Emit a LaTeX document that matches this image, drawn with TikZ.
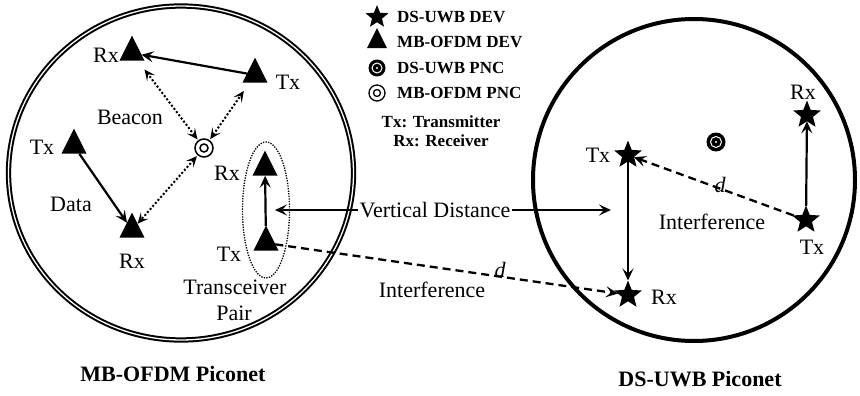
\documentclass[tikz,border=0pt]{standalone}
\usepackage{fontspec}
\setmainfont{Liberation Serif}
\usetikzlibrary{shapes.geometric,arrows.meta}
\begin{document}
\begin{tikzpicture}[x=1pt,y=-1pt,
  lbl/.style={font=\fontsize{22}{24}\selectfont, inner sep=0pt},
  leg/.style={font=\bfseries\fontsize{17}{19}\selectfont, inner sep=0pt, anchor=west},
  captionlbl/.style={font=\bfseries\fontsize{22}{24}\selectfont, inner sep=0pt},
  tri/.style={isosceles triangle, isosceles triangle stretches, shape border rotate=90,
    minimum width=25pt, minimum height=25pt, fill=black, inner sep=0pt, outer sep=0pt},
  strn/.style={star, star points=5, star point ratio=2.3, fill=black, minimum size=29pt, inner sep=0pt, outer sep=0pt},
  arr/.style={-{Stealth[length=12pt,width=11pt,inset=5pt]}, line width=2.2pt},
  dotarr/.style={{Stealth[length=11pt,width=10pt,inset=5pt]}-{Stealth[length=11pt,width=10pt,inset=5pt]}, line width=2pt, dash pattern=on 2pt off 2pt},
  dasharr/.style={-{Stealth[length=12pt,width=11pt,inset=5pt]}, line width=2.3pt, dash pattern=on 8pt off 5pt},
  mbpnc/.style={circle, draw, line width=1.5pt, minimum size=18pt, inner sep=0pt},
  dspnc/.style={circle, fill=black, minimum size=19pt, inner sep=0pt}
]
\useasboundingbox (0,0) rectangle (860,396);

% piconet outlines
\node[ellipse, draw, double, line width=2pt, double distance=1.3pt, minimum width=345pt, minimum height=334pt, inner sep=0pt] (mbnet) at (181,173) {};
\node[circle, draw, line width=4pt, minimum size=322pt, inner sep=0pt] (dsnet) at (694,180) {};

% legend
\node[strn, minimum size=24pt] (lgstar) at (377,17) {};
\node[leg] (lgt1) at (397,17) {DS-UWB DEV};
\node[tri, minimum width=20pt, minimum height=20pt] (lgtri) at (377,42) {};
\node[leg] (lgt2) at (397,42) {MB-OFDM DEV};
\node[dspnc, minimum size=17pt] (lgds) at (377,68) {};
\draw[white, line width=1pt] (lgds) circle[radius=5];
\fill[white] (lgds) circle[radius=1.1];
\node[leg] (lgt3) at (397,68) {DS-UWB PNC};
\node[mbpnc, minimum size=16pt, line width=1.3pt] (lgmb) at (377,93) {};
\draw[line width=1.3pt] (lgmb) circle[radius=3.5];
\node[leg] (lgt4) at (397,93) {MB-OFDM PNC};
\node[leg, anchor=center, align=center, font=\bfseries\fontsize{17}{19}\selectfont] (lgtxrx) at (441,131) {Tx: Transmitter\\Rx: Receiver};

% MB-OFDM piconet
\node[tri] (rxt) at (132,53) {};
\node[lbl] (rxtl) at (106,55) {Rx};
\node[tri] (txtr) at (255,75) {};
\node[lbl] (txtrl) at (288,82) {Tx};
\node[mbpnc] (pnc) at (204,148) {};
\draw[line width=1.5pt] (pnc) circle[radius=4];
\node[lbl] (beacon) at (130,117) {Beacon};
\node[tri] (txl) at (74,146) {};
\node[lbl] (txll) at (42,147) {Tx};
\node[lbl] (data) at (71,204) {Data};
\node[tri] (rxb) at (132,230) {};
\node[lbl] (rxbl) at (132,261) {Rx};
\node[tri] (rxp) at (265,168) {};
\node[lbl] (rxpl) at (227,173) {Rx};
\node[tri] (txp) at (266,243) {};
\node[lbl] (txpl) at (229,254) {Tx};
\node[ellipse, draw, line width=1.3pt, dash pattern=on 1.3pt off 1.3pt, minimum width=47pt, minimum height=136pt, inner sep=0pt] (pair) at (266,210) {};
\node[lbl] (trans) at (235,287) {Transceiver};
\node[lbl] (pairl) at (234,313) {Pair};

\draw[arr] (txtr) -- (rxt);
\draw[arr] (txl) -- (rxb);
\draw[dotarr, shorten >=11pt, shorten <=1pt] (pnc) -- (rxt);
\draw[dotarr, shorten >=10pt, shorten <=1pt] (pnc) -- (txtr);
\draw[dotarr, shorten <=1pt] (pnc) -- (rxb);
\draw[arr] (txp) -- (rxp);

% DS-UWB piconet
\node[strn] (txs) at (628,155) {};
\node[lbl] (txsl) at (598,155) {Tx};
\node[strn] (rxs) at (628,295) {};
\node[lbl] (rxsl) at (664,297) {Rx};
\node[dspnc] (dpnc) at (716,142) {};
\draw[white, line width=1pt] (dpnc) circle[radius=5.5];
\fill[white] (dpnc) circle[radius=1.2];
\node[strn] (rxs2) at (807,115) {};
\node[lbl] (rxs2l) at (803,92) {Rx};
\node[strn] (txs2) at (806,220) {};
\node[lbl] (txs2l) at (812,247) {Tx};
\draw[arr] (txs) -- (rxs);
\draw[arr] (txs2) -- (rxs2);
\draw[dasharr] (txs2) -- (txs);
\node[lbl, font=\itshape\fontsize{22}{24}\selectfont] (d2) at (720,185) {d};
\node[lbl] (intf2) at (712,222) {Interference};

% between piconets
\node[lbl] (vd) at (435,210) {Vertical Distance};
\coordinate (vdl) at (275,210);
\coordinate (vdr) at (611,210);
\draw[arr, shorten <=1pt] (vd.west) -- (vdl);
\draw[arr, shorten <=1pt] (vd.east) -- (vdr);
\draw[dasharr] (txp) -- (rxs);
\node[lbl, font=\itshape\fontsize{22}{24}\selectfont] (d1) at (500,270) {d};
\node[lbl] (intf1) at (432,290) {Interference};

% captions
\node[captionlbl] (capmb) at (173,374) {MB-OFDM Piconet};
\node[captionlbl] (capds) at (700,379) {DS-UWB Piconet};
\end{tikzpicture}
\end{document}
